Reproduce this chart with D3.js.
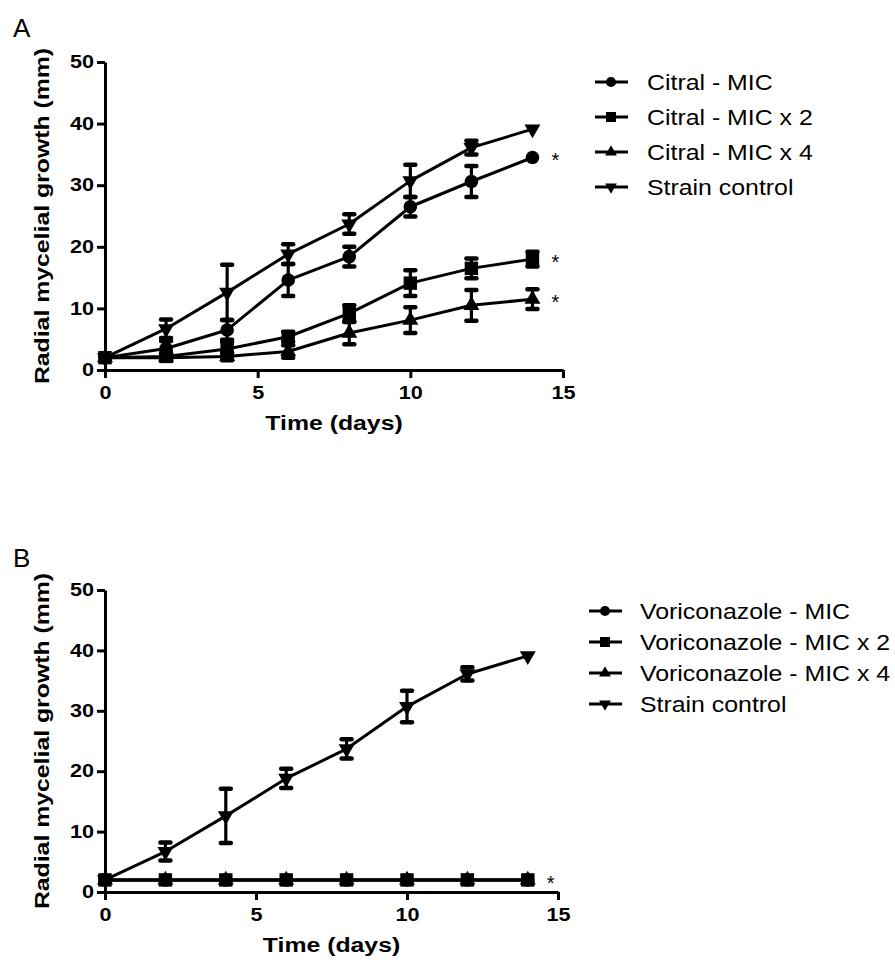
<!DOCTYPE html>
<html>
<head>
<meta charset="utf-8">
<script src="https://cdn.jsdelivr.net/npm/d3@7"></script>
<style>
  html, body { margin: 0; padding: 0; background: #fff; }
  svg { display: block; }
  text { font-family: "Liberation Sans", Arial, sans-serif; fill: #000; }
</style>
</head>
<body>
<svg id="chart" width="895" height="962"></svg>
<script>
// ---------- DATA ----------
const days = [0, 2, 4, 6, 8, 10, 12, 14];
const xTicks = [0, 5, 10, 15];
const yTicks = [0, 10, 20, 30, 40, 50];

const citralMIC      = [2, 3.5, 6.5, 14.6, 18.4, 26.5, 30.6, 34.5];
const citralMICErr   = [0, 1.2, 1.6, 2.6, 1.6, 1.6, 2.5, 0];
const citralMIC2     = [2, 2.2, 3.4, 5.4, 9.2, 14.1, 16.5, 18.0];
const citralMIC2Err  = [0, 0.5, 1.2, 0.8, 1.3, 2.1, 1.6, 1.2];
const citralMIC4     = [2, 2.0, 2.2, 3.0, 6.0, 8.1, 10.5, 11.5];
const citralMIC4Err  = [0, 0.4, 0.6, 1.0, 1.8, 2.1, 2.5, 1.6];

const voriMIC        = [2, 2, 2, 2, 2, 2, 2, 2];
const voriMIC2       = [2, 2, 2, 2, 2, 2, 2, 2];
const voriMIC4       = [2, 2, 2, 2, 2, 2, 2, 2];
const zeroErr        = [0, 0, 0, 0, 0, 0, 0, 0];

const control        = [2, 6.7, 12.6, 18.8, 23.7, 30.7, 36.1, 39.1];
const controlErr     = [0, 1.5, 4.5, 1.6, 1.6, 2.6, 1.1, 0];

const namesA = ["Citral - MIC", "Citral - MIC x 2", "Citral - MIC x 4", "Strain control"];
const namesB = ["Voriconazole - MIC", "Voriconazole - MIC x 2", "Voriconazole - MIC x 4", "Strain control"];
const symbols = ["circle", "square", "triangle", "triangleDown"];
const sigA = [true, true, true, false];
const sigB = [false, true, false, false];

// ---------- LAYOUT ----------
const panels = [
  { label: "A", labelY: 37,
    x0: 105, x1: 563, yTop: 62, yBot: 370,
    names: namesA, sig: sigA,
    values: [citralMIC, citralMIC2, citralMIC4, control],
    errs: [citralMICErr, citralMIC2Err, citralMIC4Err, controlErr],
    legX: 611, legText: 647, legY: 82, legStep: 35 },
  { label: "B", labelY: 567,
    x0: 105, x1: 558, yTop: 590, yBot: 892,
    names: namesB, sig: sigB,
    values: [voriMIC, voriMIC2, voriMIC4, control],
    errs: [zeroErr, zeroErr, zeroErr, controlErr],
    legX: 605, legText: 640, legY: 611, legStep: 31 }
];

const svg = d3.select("#chart");

function stretch(sel, f) {
  sel.each(function () {
    const w = this.getComputedTextLength();
    this.setAttribute("textLength", w * f);
    this.setAttribute("lengthAdjust", "spacingAndGlyphs");
  });
}

function symPath(type, size) {
  if (type === "circle") return d3.symbol(d3.symbolCircle, size)();
  if (type === "square") return d3.symbol(d3.symbolSquare, size)();
  return d3.symbol(d3.symbolTriangle, size)();
}
const plotSizes = { circle: 145, square: 180, triangle: 110, triangleDown: 110 };
const legSizes  = { circle: 80, square: 100, triangle: 60, triangleDown: 60 };

panels.forEach(p => {
  const x = d3.scaleLinear().domain([0, 15]).range([p.x0, p.x1]);
  const y = d3.scaleLinear().domain([0, 50]).range([p.yBot, p.yTop]);
  const g = svg.append("g");

  // panel label
  g.append("text").attr("x", 13).attr("y", p.labelY)
    .style("font-size", "26px").text(p.label);

  // axes
  const yAxis = g.append("g").attr("transform", `translate(${p.x0},0)`)
    .call(d3.axisLeft(y).tickValues(yTicks).tickSize(8).tickSizeOuter(0).tickPadding(3));
  const xAxis = g.append("g").attr("transform", `translate(0,${p.yBot})`)
    .call(d3.axisBottom(x).tickValues(xTicks).tickSize(8).tickSizeOuter(0).tickPadding(8));
  [yAxis, xAxis].forEach(a => {
    a.selectAll("path, line").attr("stroke", "#000").attr("stroke-width", 3);
    a.selectAll("text").attr("font-family", null)
      .style("font-size", "18px").style("font-weight", "bold").attr("fill", "#000");
    stretch(a.selectAll("text"), 1.2);
  });

  // axis titles
  const yt = g.append("text")
    .attr("transform", `translate(49,${(p.yTop + p.yBot) / 2}) rotate(-90)`)
    .attr("text-anchor", "middle")
    .style("font-size", "20px").style("font-weight", "bold")
    .text("Radial mycelial growth (mm)");
  stretch(yt, 1.24);
  const xt = g.append("text")
    .attr("x", (p.x0 + p.x1) / 2).attr("y", p.yBot + 60)
    .attr("text-anchor", "middle")
    .style("font-size", "20px").style("font-weight", "bold")
    .text("Time (days)");
  stretch(xt, 1.24);

  // series
  p.values.forEach((vals, si) => {
    const pts = days.map((d, i) => ({ d, v: vals[i], e: p.errs[si][i] }));
    const sg = g.append("g");
    // error bars
    pts.filter(q => q.e > 0).forEach(q => {
      const cx = x(q.d);
      sg.append("line").attr("x1", cx).attr("x2", cx)
        .attr("y1", y(q.v - q.e)).attr("y2", y(q.v + q.e))
        .attr("stroke", "#000").attr("stroke-width", 3.2);
      [q.v - q.e, q.v + q.e].forEach(vv => {
        sg.append("line").attr("x1", cx - 5).attr("x2", cx + 5)
          .attr("y1", y(vv)).attr("y2", y(vv))
          .attr("stroke", "#000").attr("stroke-width", 4.5)
          .attr("stroke-linecap", "round");
      });
    });
    // line
    sg.append("path").datum(pts)
      .attr("d", d3.line().x(q => x(q.d)).y(q => y(q.v)))
      .attr("fill", "none").attr("stroke", "#000").attr("stroke-width", 3)
      .attr("stroke-linejoin", "round");
    // markers
    const type = symbols[si];
    sg.selectAll("path.m").data(pts).join("path").attr("class", "m")
      .attr("d", symPath(type, plotSizes[type]))
      .attr("transform", q => `translate(${x(q.d)},${y(q.v)})` + (type === "triangleDown" ? " rotate(180)" : ""))
      .attr("fill", "#000");
    // significance asterisk
    if (p.sig[si]) {
      const last = pts[pts.length - 1];
      g.append("text").attr("x", x(last.d) + 19).attr("y", y(last.v) + 10)
        .style("font-size", "20px").text("*");
    }
  });

  // legend
  p.names.forEach((name, i) => {
    const ly = p.legY + i * p.legStep;
    const lg = g.append("g");
    lg.append("line").attr("x1", p.legX - 16).attr("x2", p.legX + 17)
      .attr("y1", ly).attr("y2", ly).attr("stroke", "#000").attr("stroke-width", 3);
    const type = symbols[i];
    lg.append("path").attr("d", symPath(type, legSizes[type]))
      .attr("transform", `translate(${p.legX},${ly})` + (type === "triangleDown" ? " rotate(180)" : ""))
      .attr("fill", "#000");
    const t = lg.append("text").attr("x", p.legText).attr("y", ly + 8)
      .style("font-size", "22px").text(name);
    stretch(t, 1.13);
  });
});
</script>
</body>
</html>
